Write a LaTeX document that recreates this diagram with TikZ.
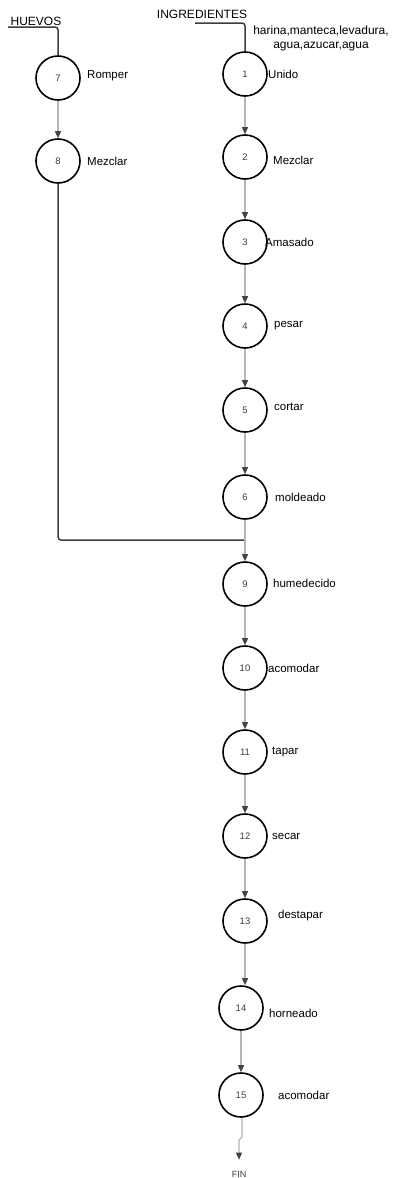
\documentclass[tikz,border=0pt]{standalone}
\usepackage{fontspec}
\setmainfont{Liberation Sans}
\usetikzlibrary{arrows.meta}
\definecolor{linegray}{RGB}{182,182,182}
\definecolor{darkline}{RGB}{62,62,62}
\definecolor{tipgray}{RGB}{62,68,78}
\definecolor{numgray}{RGB}{60,60,60}

\begin{document}
\begin{tikzpicture}[x=1pt,y=-1pt,
  op/.style={circle,draw=black,line width=1.6pt,minimum size=44pt,inner sep=0pt,font=\fontsize{9.5}{11}\selectfont,text=numgray},
  lbl/.style={anchor=west,inner sep=0pt,font=\fontsize{11.5}{14}\selectfont},
  flow/.style={draw=linegray,line width=1.3pt,-{Triangle[length=7pt,width=6pt,color=tipgray]}},
  joint/.style={draw=darkline,line width=1.5pt,rounded corners=3pt}]
\useasboundingbox (0,0) rectangle (393,1178);
% headers
\node[font=\fontsize{12}{14}\selectfont,inner sep=0pt] (huevos) at (36,21) {HUEVOS};
\node[font=\fontsize{12}{14}\selectfont,inner sep=0pt] (ingr) at (202,14) {INGREDIENTES};
\node[font=\fontsize{12}{13.5}\selectfont,inner sep=0pt,align=center] (lista) at (321,38.5) {harina,manteca,levadura,\\agua,azucar,agua};
\coordinate (hv) at (8,27);
\coordinate (ing) at (195,23);
% operations
\node[op] (c7) at (58,78) {7};
\node[op] (c8) at (58,161) {8};
\node[op] (c1) at (245,74) {1};
\node[op] (c2) at (245,157) {2};
\node[op] (c3) at (245,242) {3};
\node[op] (c4) at (245,326) {4};
\node[op] (c5) at (245,410) {5};
\node[op] (c6) at (245,497) {6};
\node[op] (c9) at (245,584) {9};
\node[op] (c10) at (245,668) {10};
\node[op] (c11) at (245,752) {11};
\node[op] (c12) at (245,836) {12};
\node[op] (c13) at (245,921) {13};
\node[op] (c14) at (241,1008) {14};
\node[op] (c15) at (241,1095) {15};
\node[font=\fontsize{9}{11}\selectfont,text=numgray,inner sep=3pt] (fin) at (239,1174) {FIN};
% labels
\node[lbl] (l7) at (87,76) {Romper};
\node[lbl] (l8) at (87,161) {Mezclar};
\node[lbl] (l1) at (268,74) {Unido};
\node[lbl] (l2) at (273,160) {Mezclar};
\node[lbl] (l3) at (265,242) {Amasado};
\node[lbl] (l4) at (274,326) {pesar};
\node[lbl] (l5) at (274,407) {cortar};
\node[lbl] (l6) at (275,497) {moldeado};
\node[lbl] (l9) at (273,583) {humedecido};
\node[lbl] (l10) at (268,668) {acomodar};
\node[lbl] (l11) at (272,752) {tapar};
\node[lbl] (l12) at (272,836) {secar};
\node[lbl] (l13) at (278,916) {destapar};
\node[lbl] (l14) at (269,1013) {horneado};
\node[lbl] (l15) at (278,1095) {acomodar};
% connectors
\coordinate (j69) at (245,540);
\coordinate (k1) at (242,1137);
\coordinate (k2) at (239,1140);
\draw[joint] (hv) -| (c7);
\draw[joint] (ing) -| (c1);
\draw[flow] (c7) -- (c8);
\draw[joint] (c8) |- (j69);
\foreach \a/\b in {1/2,2/3,3/4,4/5,5/6,6/9,9/10,10/11,11/12,12/13,14/15}
  \draw[flow] (c\a) -- (c\b);
\draw[flow] (c13) -- (c13 |- c14.north);
\draw[flow,shorten >=8pt] (c15.south -| k1) -- (k1) -- (k2) -- (fin);
\end{tikzpicture}
\end{document}
